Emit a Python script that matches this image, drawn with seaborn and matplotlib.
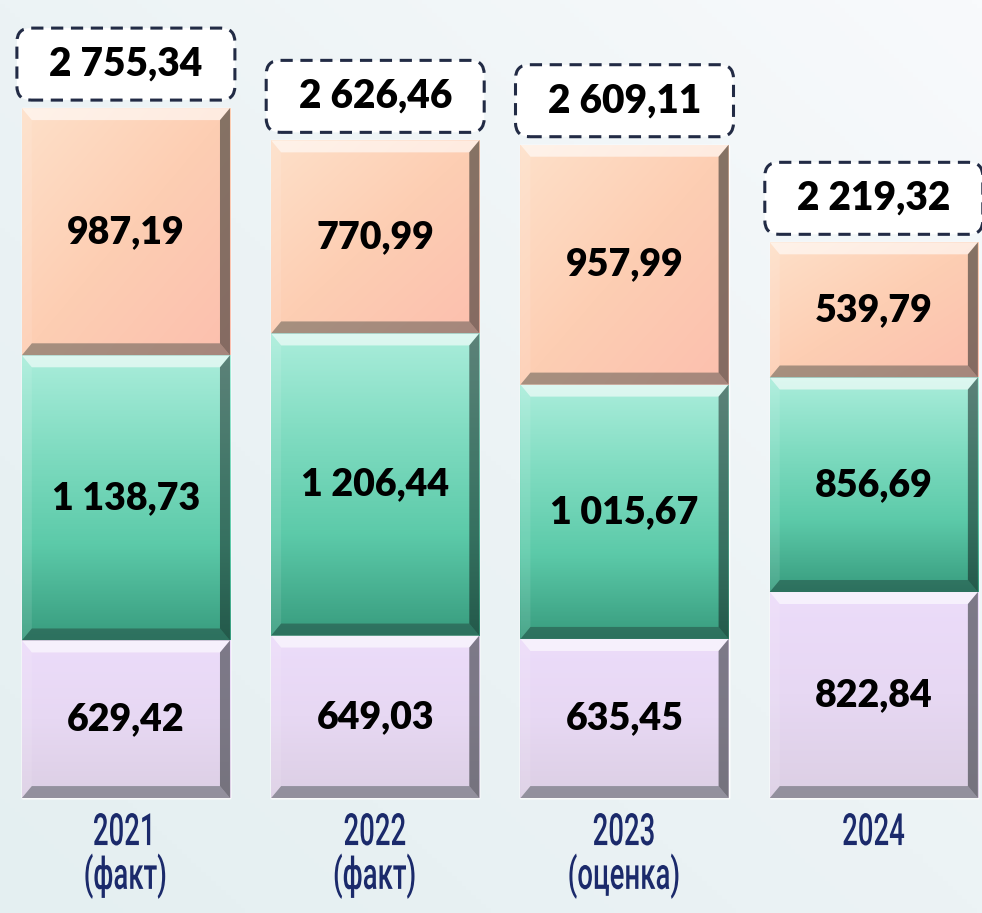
import numpy as np
import pandas as pd
import matplotlib
matplotlib.use('Agg')
import matplotlib.pyplot as plt
import seaborn as sns
from matplotlib.patches import Rectangle, Polygon, FancyBboxPatch
from matplotlib.colors import LinearSegmentedColormap
from matplotlib.patheffects import AbstractPathEffect
from matplotlib.transforms import Affine2D

# data (млн руб.)
years = ['2021\n(факт)', '2022\n(факт)', '2023\n(оценка)', '2024']
part_bottom = [629.42, 649.03, 635.45, 822.84]   # purple
part_middle = [1138.73, 1206.44, 1015.67, 856.69]  # green
part_top = [987.19, 770.99, 957.99, 539.79]       # orange
totals = [2755.34, 2626.46, 2609.11, 2219.32]

def fmt(v):
    s = f'{v:,.2f}'
    return s.replace(',', ' ').replace('.', ',')


class Squeeze(AbstractPathEffect):
    """narrows glyphs horizontally around the centre of each line (no condensed font here)"""
    def __init__(self, sx):
        super().__init__()
        self.sx = sx

    def draw_path(self, renderer, gc, tpath, affine, rgbFace=None):
        verts = affine.transform(tpath.vertices)
        if len(verts):
            cx = (verts[:, 0].min() + verts[:, 0].max()) / 2
        else:
            cx = 0
        squeeze = Affine2D().translate(-cx, 0).scale(self.sx, 1).translate(cx, 0)
        renderer.draw_path(gc, tpath, affine + squeeze, rgbFace)


sns.set_style('white')
plt.rcParams['font.family'] = ['Lato', 'DejaVu Sans']

fig = plt.figure(figsize=(9.82, 9.13), dpi=100)
fig.patch.set_facecolor('#e9f2f4')

# soft background gradient
bg = fig.add_axes([0, 0, 1, 1], zorder=-10)
gx, gy = np.meshgrid(np.linspace(0, 1, 200), np.linspace(0, 1, 200))
bg_cmap = LinearSegmentedColormap.from_list('bg', ['#e4eff1', '#ecf3f5', '#f8fafc'])
bg.imshow(0.6 * gx + 0.6 * gy, cmap=bg_cmap, extent=[0, 1, 0, 1], aspect='auto', origin='lower')
bg.axis('off')

ax = fig.add_axes([0, 0, 1, 1])
ax.patch.set_alpha(0)

df = pd.DataFrame({'year': years, 'p1': part_bottom, 'p2': part_middle, 'p3': part_top})
df['c1'] = df['p1']
df['c2'] = df['p1'] + df['p2']
df['c3'] = df['c2'] + df['p3']

bw = 0.835
sns.barplot(data=df, x='year', y='c3', color='#fdd3b8', width=bw, ax=ax, zorder=1)
sns.barplot(data=df, x='year', y='c2', color='#6fd3b4', width=bw, ax=ax, zorder=1)
sns.barplot(data=df, x='year', y='c1', color='#e9d9f6', width=bw, ax=ax, zorder=1)

ax.set_xlim(-0.505, 3.434)
ax.set_ylim(-459, 3187)
ax.axis('off')

n = len(years)
layers = [ax.patches[2 * n:3 * n], ax.patches[n:2 * n], ax.patches[0:n]]  # purple, green, orange

grad = {
    0: LinearSegmentedColormap.from_list('pu', ['#dccfe4', '#e7d8f3', '#ecdcfa']),
    1: LinearSegmentedColormap.from_list('gr', ['#389c7e', '#5ccaa9', '#80dcc1', '#aaeddb']),
    2: LinearSegmentedColormap.from_list('or', ['#fcbfae', '#fdceb3', '#fee0c9']),
}

px_y = 3646 / 913   # data units per pixel, vertical
px_x = 3.939 / 982  # data units per pixel, horizontal
bev_y = 12 * px_y
bev_x = 10 * px_x

labels = [part_bottom, part_middle, part_top]
for k, layer in enumerate(layers):
    for i, p in enumerate(layer):
        x0 = p.get_x()
        w = p.get_width()
        top = p.get_height()
        bot = layers[k - 1][i].get_height() if k > 0 else 0
        clip = Rectangle((x0, bot), w, top - bot, transform=ax.transData)
        if k == 2:
            g = 0.5 * gx + 0.5 * (1 - gy)
            img = ax.imshow(1 - g, cmap=grad[k], extent=[x0, x0 + w, bot, top],
                            aspect='auto', origin='lower', zorder=2)
        else:
            img = ax.imshow(gy, cmap=grad[k], extent=[x0, x0 + w, bot, top],
                            aspect='auto', origin='lower', zorder=2)
        img.set_clip_path(clip)
        x1 = x0 + w
        # bevel: top light, bottom dark, sides
        ax.add_patch(Polygon([(x0, top), (x1, top), (x1 - bev_x, top - bev_y), (x0 + bev_x, top - bev_y)],
                             facecolor='white', alpha=0.6, lw=0, zorder=3))
        ax.add_patch(Polygon([(x0, bot), (x1, bot), (x1 - bev_x, bot + bev_y), (x0 + bev_x, bot + bev_y)],
                             facecolor='#1c2b2b', alpha=0.38, lw=0, zorder=3))
        ax.add_patch(Polygon([(x0, bot), (x0, top), (x0 + bev_x, top - bev_y), (x0 + bev_x, bot + bev_y)],
                             facecolor='white', alpha=0.1, lw=0, zorder=3))
        ax.add_patch(Polygon([(x1, bot), (x1, top), (x1 - bev_x, top - bev_y), (x1 - bev_x, bot + bev_y)],
                             facecolor='#101818', alpha=0.5, lw=0, zorder=3))
        ax.text(x0 + w / 2, (bot + top) / 2, fmt(labels[k][i]), ha='center', va='center',
                fontsize=27, fontweight='heavy', color='black', zorder=5)

# totals in dashed boxes
box_w = 218 * px_x
box_h = 72 * px_y
for i, p in enumerate(layers[2]):
    cx = p.get_x() + p.get_width() / 2
    y0 = p.get_height() + 8 * px_y
    ax.add_patch(FancyBboxPatch((cx - box_w / 2, y0), box_w, box_h,
                                boxstyle=f'round,pad=0,rounding_size={14 * px_x}',
                                mutation_aspect=px_y / px_x, facecolor='white',
                                edgecolor='#222b45', linestyle=(0, (4, 2.5)), linewidth=2.2, zorder=6))
    ax.text(cx, y0 + box_h / 2, fmt(totals[i]), ha='center', va='center',
            fontsize=28, fontweight='heavy', color='black', zorder=7)

# year labels
for i, p in enumerate(layers[0]):
    ax.text(p.get_x() + p.get_width() / 2, -14 * px_y, years[i], ha='center', va='top',
            fontsize=32, color='#1b2a6b', linespacing=0.98, zorder=6,
            family=['Roboto', 'DejaVu Sans'], fontweight='medium', path_effects=[Squeeze(0.62)])

fig.savefig('out.png', dpi=100, facecolor=fig.get_facecolor())
